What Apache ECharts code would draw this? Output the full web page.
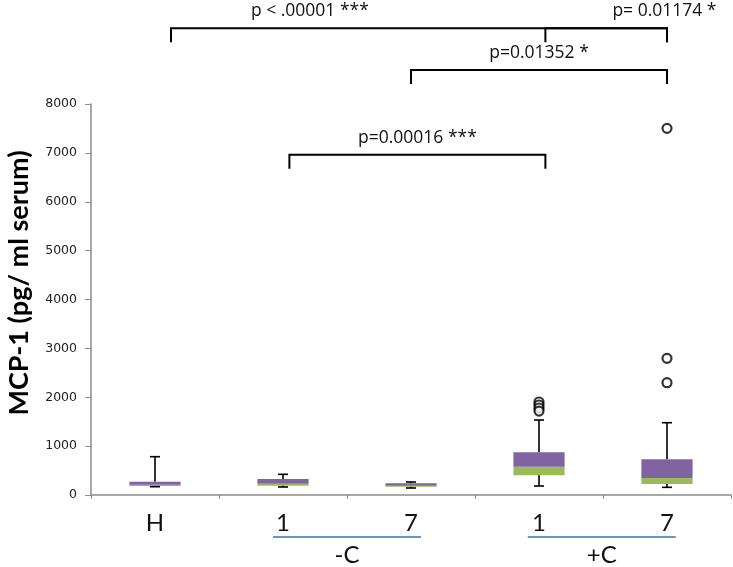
<!DOCTYPE html>
<html>
<head>
<meta charset="utf-8">
<script src="https://cdn.jsdelivr.net/npm/echarts@6/dist/echarts.min.js"></script>
<style>html,body{margin:0;padding:0;background:#fff}#c{width:733px;height:567px}</style>
</head>
<body>
<div id="c"></div>
<script>
const categories = ['H', '1', '7', '1', '7'];
const lowWhisker = [170, 164, 143, 184, 157];
const q1 = [184, 190, 170, 403, 225];
const median = [210, 231, 190, 580, 348];
const q3 = [272, 327, 239, 873, 730];
const highWhisker = [784, 423, 266, 1534, 1479];
const outliers = [[3, 1903], [3, 1841], [3, 1780], [3, 1718], [4, 2298], [4, 2796], [4, 7502]];
const yMin = 0, yMax = 8000, yStep = 1000;

const bracketFrom = [0.125, 3.05, 2, 1.05];
const bracketTo = [4, 4, 4, 3.05];
const bracketLevel = [9550, 9550, 8695, 6960];
const bracketLabelX = [1.21, 3.98, 3.0, 2.05];
const bracketText = ['p < .00001 ***', 'p= 0.01174 *', 'p=0.01352 *', 'p=0.00016 ***'];

const groupNames = ['-C', '+C'];
const groupCenter = [1.5, 3.49];

const yAxisTitle = 'MCP-1 (pg/ ml serum)';

function xAt(api, f) {
  const i = Math.floor(f);
  const p = api.coord([i, 0])[0];
  const bw = api.size([1, 0])[0];
  return p + (f - i) * bw;
}

const chart = echarts.init(document.getElementById('c'), null, {renderer: 'canvas'});
chart.setOption({
  animation: false,
  grid: {left: 91, right: 2, top: 104, bottom: 72},
  xAxis: {
    type: 'category',
    data: categories,
    axisLine: {lineStyle: {color: '#8c8c8c', width: 1.5}},
    axisTick: {show: true, length: 4, lineStyle: {color: '#8c8c8c'}},
    axisLabel: {fontFamily: 'Lato', fontSize: 24, color: '#111', margin: 16}
  },
  yAxis: {
    type: 'value',
    min: yMin, max: yMax, interval: yStep,
    splitLine: {show: false},
    axisLine: {show: true, lineStyle: {color: '#8c8c8c', width: 1.5}},
    axisTick: {show: true, length: 6, lineStyle: {color: '#8c8c8c'}},
    axisLabel: {fontFamily: 'DejaVu Sans', fontSize: 12.5, color: '#222', margin: 14,
      formatter: function (v) { return String(v); }}
  },
  graphic: [{
    type: 'text', x: 19, y: 283, rotation: Math.PI / 2,
    style: {text: yAxisTitle, fontFamily: 'Lato', fontWeight: 'bold', fontSize: 27,
      fill: '#000', align: 'center', verticalAlign: 'middle'}
  }],
  series: [
    {
      type: 'custom',
      data: categories.map((c, i) => [i, lowWhisker[i], q1[i], median[i], q3[i], highWhisker[i]]),
      encode: {x: 0, y: [1, 2, 3, 4, 5]},
      renderItem: function (params, api) {
        const i = api.value(0);
        const x = api.coord([i, 0])[0];
        const hw = api.size([1, 0])[0] * 0.2;
        const yl = api.coord([i, api.value(1)])[1];
        const y1 = api.coord([i, api.value(2)])[1];
        const ym = api.coord([i, api.value(3)])[1];
        const y3 = api.coord([i, api.value(4)])[1];
        const yh = api.coord([i, api.value(5)])[1];
        const cap = 5;
        const ls = {stroke: '#000', lineWidth: 1.6};
        return {
          type: 'group',
          children: [
            {type: 'line', shape: {x1: x, y1: y3, x2: x, y2: yh}, style: ls},
            {type: 'line', shape: {x1: x - cap, y1: yh, x2: x + cap, y2: yh}, style: ls},
            {type: 'rect', shape: {x: x - hw, y: ym, width: 2 * hw, height: y1 - ym}, style: {fill: '#9BBB59'}},
            {type: 'rect', shape: {x: x - hw, y: y3, width: 2 * hw, height: ym - y3}, style: {fill: '#8064A2'}},
            {type: 'line', shape: {x1: x, y1: y1, x2: x, y2: yl}, style: ls},
            {type: 'line', shape: {x1: x - cap, y1: yl, x2: x + cap, y2: yl}, style: ls}
          ]
        };
      },
      z: 2
    },
    {
      type: 'scatter',
      data: outliers,
      symbol: 'circle',
      symbolSize: 9,
      itemStyle: {color: '#fff', borderColor: '#000', borderWidth: 2.2},
      z: 3
    },
    {
      type: 'custom',
      data: bracketText.map((t, i) => [i]),
      encode: {x: 0},
      clip: false,
      renderItem: function (params, api) {
        const k = params.dataIndex;
        const xa = xAt(api, bracketFrom[k]);
        const xb = xAt(api, bracketTo[k]);
        const y = api.coord([0, bracketLevel[k]])[1];
        const xt = xAt(api, bracketLabelX[k]);
        const drop = 14;
        return {
          type: 'group',
          children: [
            {type: 'polyline', shape: {points: [[xa, y + drop], [xa, y], [xb, y], [xb, y + drop]]},
              style: {stroke: '#000', lineWidth: 2, fill: null}},
            {type: 'text', x: xt, y: y - 17,
              style: {text: bracketText[k], fontFamily: 'Open Sans', fontSize: 17.5, fill: '#111',
                align: 'center', verticalAlign: 'middle'}}
          ]
        };
      }
    },
    {
      type: 'custom',
      data: groupNames.map((g, i) => [i]),
      encode: {x: 0},
      clip: false,
      renderItem: function (params, api) {
        const k = params.dataIndex;
        const xc = xAt(api, groupCenter[k]);
        const y0 = api.coord([0, 0])[1];
        const half = 74;
        return {
          type: 'group',
          children: [
            {type: 'line', shape: {x1: xc - half, y1: y0 + 42, x2: xc + half, y2: y0 + 42},
              style: {stroke: '#2E75B6', lineWidth: 1.3}},
            {type: 'text', x: xc, y: y0 + 60,
              style: {text: groupNames[k], fontFamily: 'Lato', fontSize: 24, fill: '#111',
                align: 'center', verticalAlign: 'middle'}}
          ]
        };
      }
    }
  ]
});
</script>
</body>
</html>
